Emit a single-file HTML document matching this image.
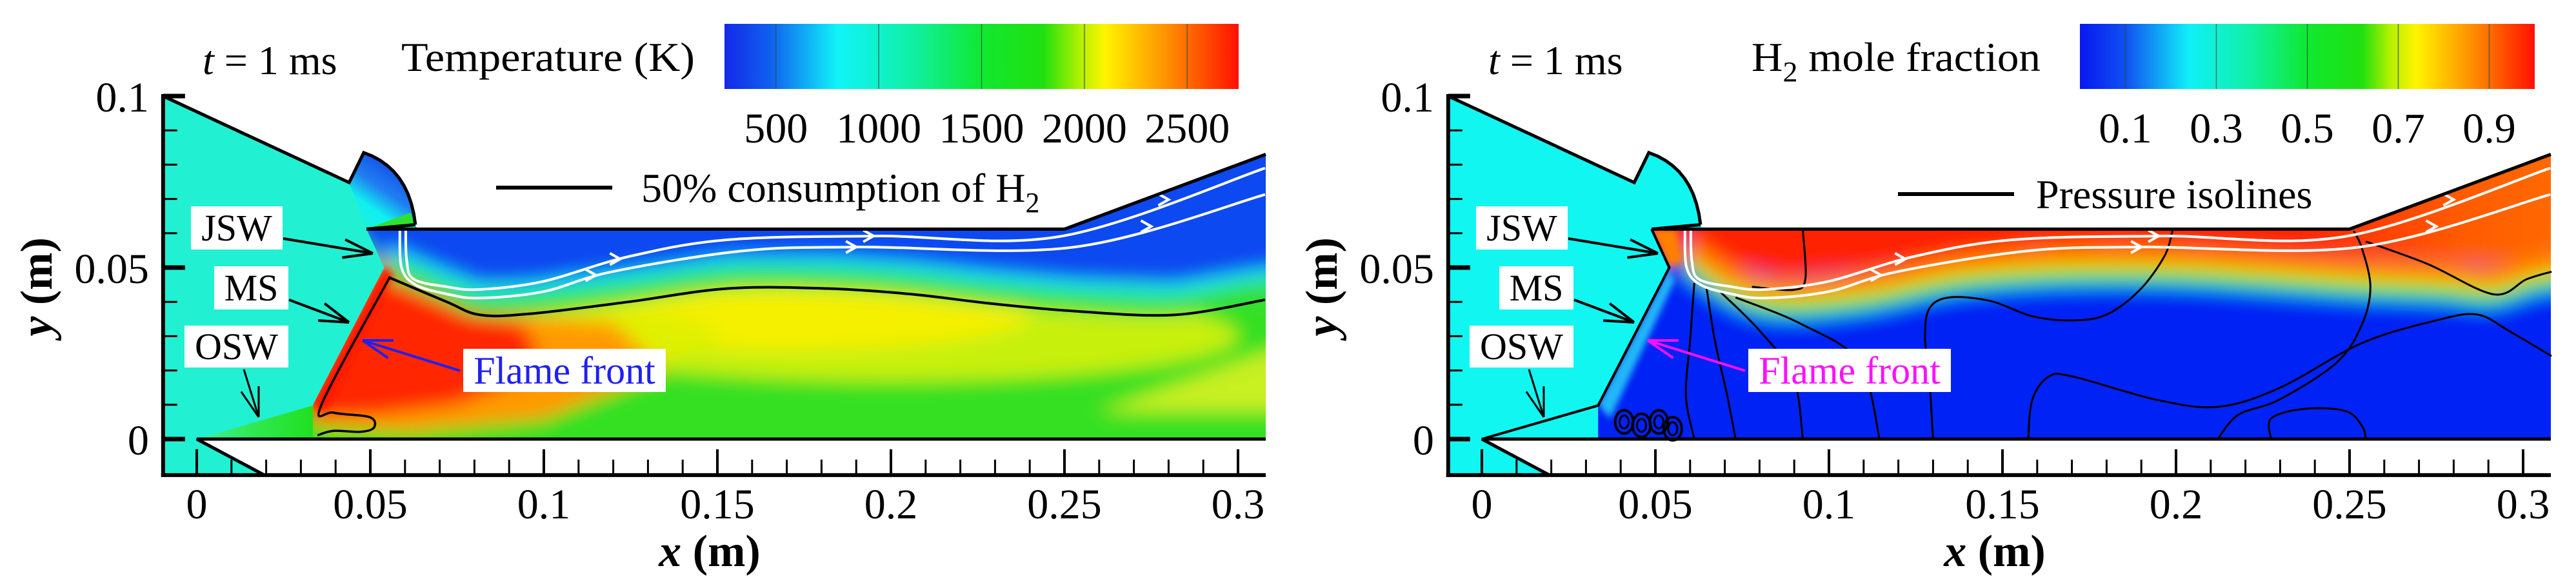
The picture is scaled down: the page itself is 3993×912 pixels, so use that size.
<!DOCTYPE html>
<html><head><meta charset="utf-8">
<style>
html,body{margin:0;padding:0;background:#fff;}
svg{display:block;}
text{font-family:"Liberation Serif",serif;fill:#000;}
</style></head>
<body>
<svg id="chart" width="3993" height="912" viewBox="0 0 3993 912" xmlns="http://www.w3.org/2000/svg">
<defs>
<filter id="blurBig" x="-20%" y="-20%" width="140%" height="140%"><feGaussianBlur stdDeviation="14"/></filter>
<filter id="blurSmall" x="-20%" y="-20%" width="140%" height="140%"><feGaussianBlur stdDeviation="5"/></filter>
<linearGradient id="tempBar" x1="0" x2="1" y1="0" y2="0">
<stop offset="0" stop-color="#1428e8"/><stop offset="0.09" stop-color="#1060f0"/><stop offset="0.22" stop-color="#10f4f8"/><stop offset="0.36" stop-color="#10f0a8"/><stop offset="0.5" stop-color="#10e830"/><stop offset="0.62" stop-color="#20e010"/><stop offset="0.69" stop-color="#b0f000"/><stop offset="0.74" stop-color="#fff400"/><stop offset="0.86" stop-color="#ff9000"/><stop offset="1" stop-color="#ff1000"/>
</linearGradient>
<linearGradient id="h2Bar" x1="0" x2="1" y1="0" y2="0">
<stop offset="0" stop-color="#0818f0"/><stop offset="0.1" stop-color="#1050f0"/><stop offset="0.24" stop-color="#10f0f8"/><stop offset="0.38" stop-color="#10f0a0"/><stop offset="0.5" stop-color="#10e830"/><stop offset="0.62" stop-color="#20e010"/><stop offset="0.68" stop-color="#b0f000"/><stop offset="0.74" stop-color="#fff400"/><stop offset="0.87" stop-color="#ff8800"/><stop offset="1" stop-color="#ff1000"/>
</linearGradient>
<linearGradient id="cowlGrad" x1="0" y1="1" x2="0.6" y2="0">
<stop offset="0" stop-color="#22f0d2"/><stop offset="0.35" stop-color="#10f0f0"/><stop offset="0.6" stop-color="#2080f0"/><stop offset="1" stop-color="#1040e8"/>
</linearGradient>
<linearGradient id="oswGrad" x1="0" x2="1" y1="0" y2="0">
<stop offset="0" stop-color="#40f0a8"/><stop offset="0.5" stop-color="#30e850"/><stop offset="1" stop-color="#20e020"/>
</linearGradient>
<linearGradient id="h2Upper" x1="0" x2="1" y1="0" y2="0">
<stop offset="0" stop-color="#ff2000"/><stop offset="0.65" stop-color="#ff2800"/><stop offset="0.8" stop-color="#ff5a00"/><stop offset="1" stop-color="#ff7a00"/>
</linearGradient>
</defs>
</svg>
<script>
// ---- data arrays (data coordinates, metres) ----
const xTickValues = [0, 0.05, 0.1, 0.15, 0.2, 0.25, 0.3];
const xTickLabels = ["0", "0.05", "0.1", "0.15", "0.2", "0.25", "0.3"];
const yTickValues = [0, 0.05, 0.1];
const yTickLabels = ["0", "0.05", "0.1"];
const tempBarLabels = ["500", "1000", "1500", "2000", "2500"];
const tempBarValues = [500, 1000, 1500, 2000, 2500];
const h2BarLabels = ["0.1", "0.3", "0.5", "0.7", "0.9"];
const h2BarValues = [0.1, 0.3, 0.5, 0.7, 0.9];
const shearX = [0.0552, 0.072, 0.0816, 0.0958, 0.1244, 0.153, 0.1816, 0.2054, 0.229, 0.253, 0.2817, 0.3078];
const shearY = [0.0472, 0.040, 0.0362, 0.0365, 0.040, 0.0439, 0.0439, 0.0423, 0.0395, 0.0373, 0.0362, 0.0406];
const h2BandX = [0.0588, 0.0731, 0.0873, 0.111, 0.1348, 0.1586, 0.1823, 0.206, 0.2298, 0.2536, 0.2773, 0.2915, 0.3082];
const h2BandY = [0.051, 0.0413, 0.038, 0.040, 0.0449, 0.0471, 0.0477, 0.0471, 0.0455, 0.0438, 0.0427, 0.0416, 0.046];
const flameX = [0.0556, 0.036, 0.0394, 0.0498, 0.0511, 0.0472, 0.0394, 0.0348];
const flameY = [0.0472, 0.0102, 0.0077, 0.0064, 0.0034, 0.0021, 0.0024, 0.0011];
const streamUpperX = [0.0602, 0.0605, 0.0625, 0.072, 0.0816, 0.1, 0.1244, 0.153, 0.196, 0.2494, 0.3078];
const streamUpperY = [0.061, 0.052, 0.0466, 0.0444, 0.0436, 0.046, 0.0532, 0.0581, 0.0592, 0.0592, 0.079];
const streamLowerX = [0.0585, 0.059, 0.063, 0.072, 0.0816, 0.1, 0.1197, 0.1578, 0.191, 0.253, 0.3078];
const streamLowerY = [0.061, 0.05, 0.045, 0.0423, 0.0411, 0.043, 0.0488, 0.0549, 0.056, 0.056, 0.0713];
const isolines = [
  [[0.0925,0.0607],[0.0932,0.0466],[0.0897,0.0435],[0.0778,0.0444]],
  [[0.199,0.0607],[0.1966,0.0532],[0.1894,0.0433],[0.18,0.0363],[0.1704,0.0346],[0.1586,0.0358],[0.1467,0.0402],[0.1348,0.0413],[0.1289,0.038],[0.1277,0.0292],[0.1289,0.0182],[0.13,0]],
  [[0.2512,0.0607],[0.2536,0.0555],[0.256,0.0444],[0.2536,0.0335],[0.2464,0.0224],[0.2298,0.0115],[0.218,0.0071],[0.212,0]],
  [[0.2547,0.0576],[0.2726,0.051],[0.2915,0.0422],[0.301,0.0466],[0.3082,0.0488]],
  [[0.3082,0.0242],[0.2963,0.0313],[0.2868,0.0363],[0.275,0.0346],[0.2536,0.028],[0.2298,0.0149],[0.212,0.0094],[0.1942,0.0115],[0.1704,0.0182],[0.1633,0.0182],[0.1586,0.0115],[0.1574,0]],
  [[0.2274,0],[0.2274,0.006],[0.2369,0.0088],[0.2488,0.0082],[0.2536,0.0038],[0.2547,0]],
  [[0.0612,0.0455],[0.06,0.0289],[0.0588,0.0126],[0.0612,0]],
  [[0.0647,0.0444],[0.0671,0.0289],[0.0707,0.0126],[0.0731,0]],
  [[0.0683,0.0433],[0.0802,0.0314],[0.0897,0.0182],[0.0925,0]],
  [[0.0731,0.0413],[0.0921,0.0335],[0.1087,0.0224],[0.1146,0]]
];
const vortexX = [0.041, 0.046, 0.051, 0.055];
const vortexY = [0.005, 0.004, 0.005, 0.003];

// ---- axis functions ----
const SX = 5380, SY = 5320;
function X(x, off) { return 305 + off + x * SX; }
function Y(y) { return 681 - y * SY; }

const NS = 'http://www.w3.org/2000/svg';
const svg = document.getElementById('chart');
const defs = svg.querySelector('defs');
function mk(parent, tag, attrs) {
  const e = document.createElementNS(NS, tag);
  for (const k in attrs) e.setAttribute(k, attrs[k]);
  parent.appendChild(e);
  return e;
}
function ptsStr(pts, off) { return pts.map(p => X(p[0], off).toFixed(1) + ',' + Y(p[1]).toFixed(1)).join(' '); }
function smooth(pts, off) {
  const P = pts.map(p => [X(p[0], off), Y(p[1])]);
  let d = 'M' + P[0][0].toFixed(1) + ' ' + P[0][1].toFixed(1);
  for (let i = 0; i < P.length - 1; i++) {
    const p0 = P[i - 1] || P[i], p1 = P[i], p2 = P[i + 1], p3 = P[i + 2] || p2;
    const c1 = [p1[0] + (p2[0] - p0[0]) / 6, p1[1] + (p2[1] - p0[1]) / 6];
    const c2 = [p2[0] - (p3[0] - p1[0]) / 6, p2[1] - (p3[1] - p1[1]) / 6];
    d += ' C' + c1[0].toFixed(1) + ' ' + c1[1].toFixed(1) + ' ' + c2[0].toFixed(1) + ' ' + c2[1].toFixed(1) + ' ' + p2[0].toFixed(1) + ' ' + p2[1].toFixed(1);
  }
  return d;
}
function zip(xs, ys, dy) { return xs.map((x, i) => [x, ys[i] + (dy || 0)]); }
function extend(pts) { const a = pts.slice(); const l = a[a.length - 1]; a.push([0.34, l[1]]); return a; }
function arcPts() {
  const P0 = [0.0481, 0.0835], C = [0.0612, 0.079], P1 = [0.063, 0.0625], out = [];
  for (let i = 0; i <= 10; i++) {
    const t = i / 10;
    out.push([(1-t)*(1-t)*P0[0] + 2*(1-t)*t*C[0] + t*t*P1[0], (1-t)*(1-t)*P0[1] + 2*(1-t)*t*C[1] + t*t*P1[1]]);
  }
  return out;
}
function arrow(parent, x1, y1, x2, y2, color, w) {
  const g = mk(parent, 'g', {stroke: color, 'stroke-width': w, fill: 'none'});
  mk(g, 'line', {x1: x1, y1: y1, x2: x2, y2: y2});
  const a = Math.atan2(y2 - y1, x2 - x1), L = 48, s = 0.3;
  mk(g, 'line', {x1: x2, y1: y2, x2: x2 - L * Math.cos(a - s), y2: y2 - L * Math.sin(a - s)});
  mk(g, 'line', {x1: x2, y1: y2, x2: x2 - L * Math.cos(a + s), y2: y2 - L * Math.sin(a + s)});
  return g;
}
function label(parent, txt, x, y, w, h, color, size) {
  const g = mk(parent, 'g', {});
  mk(g, 'rect', {x: x, y: y, width: w, height: h, fill: '#fff'});
  const t = mk(g, 'text', {x: x + w / 2, y: y + h / 2 + size * 0.34, 'font-size': size, 'text-anchor': 'middle', fill: color});
  t.style.fill = color;
  t.textContent = txt;
  return g;
}

function panel(off, kind) {
  const isT = kind === 'temperature';
  const g = mk(svg, 'g', {});
  
  

  const arc = arcPts();
  const domain = [[-0.0097, 0.1], [0.0439, 0.0748]].concat(arc).concat([[0.0635, 0.0612], [0.25, 0.0612], [0.308, 0.083], [0.308, 0], [0, 0], [0.0195, -0.0105], [-0.0097, -0.0105]]);
  const channel = [[0.0335, 0.010], [0.054, 0.050], [0.0489, 0.0612], [0.25, 0.0612], [0.308, 0.083], [0.308, 0], [0.0335, 0]];
  const cpD = mk(defs, 'clipPath', {id: 'dom' + off});
  mk(cpD, 'polygon', {points: ptsStr(domain, off)});
  const cpC = mk(defs, 'clipPath', {id: 'chan' + off});
  mk(cpC, 'polygon', {points: ptsStr(channel, off)});

  const field = mk(g, 'g', {'clip-path': 'url(#dom' + off + ')'});
  
  
  mk(field, 'rect', {x: 230 + off, y: 130, width: 1760, height: 620, fill: isT ? '#22f0d2' : '#12f6f2'});
  const cowl = [[0.0439, 0.0748]].concat(arc).concat([[0.0489, 0.0612]]);
  if (isT) {
    mk(field, 'polygon', {points: ptsStr(cowl, off), fill: 'url(#cowlGrad)'});
    mk(field, 'polygon', {points: ptsStr([[0.0489,0.0612],[0.063,0.0625],[0.0615,0.066]], off), fill: '#30e030'});
    mk(field, 'polygon', {points: ptsStr([[0, 0], [0.0335, 0.0098], [0.0335, 0]], off), fill: 'url(#oswGrad)'});
  }
  const ch = mk(field, 'g', {'clip-path': 'url(#chan' + off + ')'});
  const bl = mk(ch, 'g', {filter: 'url(#blurBig)'});
  const upperPoly = (bx, by, d) => [[0.045, 0.12], [0.34, 0.12], [0.34, by[by.length - 1] + d]].concat(zip(bx, by, d).reverse()).concat([[0.054, 0.050], [0.045, 0.062]]);
  if (isT) {
    mk(bl, 'rect', {x: 300 + off, y: 150, width: 1800, height: 650, fill: '#36e020'});
    mk(bl, 'ellipse', {cx: X(0.2, off), cy: Y(0.03), rx: 0.1 * SX, ry: 0.013 * SY, fill: '#c8f010'});
    mk(bl, 'ellipse', {cx: X(0.17, off), cy: Y(0.036), rx: 0.07 * SX, ry: 0.01 * SY, fill: '#f4f000'});
    mk(bl, 'ellipse', {cx: X(0.11, off), cy: Y(0.03), rx: 0.04 * SX, ry: 0.008 * SY, fill: '#e0f000'});
    mk(bl, 'polygon', {points: ptsStr([[0.26, 0.008], [0.34, 0.037], [0.34, 0.008]], off), fill: '#c8f020'});
    mk(bl, 'polygon', {points: ptsStr([[0.0335,0.004],[0.054,0.05],[0.07,0.041],[0.09,0.036],[0.12,0.034],[0.135,0.02],[0.1,0.006],[0.06,0.002]], off), fill: '#ff9a00'});
    mk(bl, 'polygon', {points: ptsStr([[0.03,0.010],[0.054,0.054],[0.06,0.046],[0.075,0.039],[0.095,0.033],[0.1,0.02],[0.075,0.01],[0.052,0.007],[0.03,0.006]], off), fill: '#ff2800'});
    mk(bl, 'path', {d: smooth(extend(zip(shearX, shearY, 0.003)), off), stroke: '#30e040', 'stroke-width': 34, fill: 'none'});
    mk(bl, 'path', {d: smooth(extend(zip(shearX, shearY, 0.0075)), off), stroke: '#18f0f0', 'stroke-width': 16, fill: 'none'});
    mk(bl, 'polygon', {points: ptsStr(upperPoly(shearX, shearY, 0.009), off), fill: '#1048f0'});
    const sh = mk(ch, 'g', {filter: 'url(#blurSmall)'});
    mk(sh, 'polygon', {points: ptsStr([[0.0335,0.010],[0.054,0.050],[0.0565,0.048],[0.037,0.008]], off), fill: '#ff1800'});
  } else {
    mk(bl, 'rect', {x: 300 + off, y: 150, width: 1800, height: 650, fill: '#0420f4'});
    mk(bl, 'path', {d: smooth(extend(zip(h2BandX, h2BandY, -0.002)), off), stroke: '#18b0f8', 'stroke-width': 16, fill: 'none'});
    mk(bl, 'path', {d: smooth(extend(zip(h2BandX, h2BandY, 0.0)), off), stroke: '#20e020', 'stroke-width': 20, fill: 'none'});
    mk(bl, 'path', {d: smooth(extend(zip(h2BandX, h2BandY, 0.003)), off), stroke: '#f0f000', 'stroke-width': 16, fill: 'none'});
    mk(bl, 'path', {d: smooth(extend(zip(h2BandX, h2BandY, 0.006)), off), stroke: '#ff8000', 'stroke-width': 30, fill: 'none'});
    mk(bl, 'polygon', {points: ptsStr(upperPoly(h2BandX, h2BandY, 0.009), off), fill: 'url(#h2Upper)'});
    const sh = mk(ch, 'g', {filter: 'url(#blurSmall)'});
    mk(sh, 'polygon', {points: ptsStr([[0.0335,0.010],[0.054,0.050],[0.0555,0.046],[0.037,0.006]], off), fill: '#20b8f8'});
    mk(sh, 'polygon', {points: ptsStr([[0.0489,0.0612],[0.054,0.050],[0.058,0.052],[0.056,0.0612]], off), fill: '#ff8000'});
  }

  // black contour lines
  const lines = mk(g, 'g', {fill: 'none', stroke: '#000'});
  
  
  if (isT) {
    const sl = mk(lines, 'path', {d: smooth(zip(shearX, shearY), off), 'stroke-width': 4});
    
    
    const fl = mk(lines, 'path', {d: smooth(zip(flameX, flameY), off), 'stroke-width': 3.5});
    
    
  } else {
    isolines.forEach((ln, i) => {
      const p = mk(lines, 'path', {d: smooth(ln, off), 'stroke-width': 3});
      
      
    });
    vortexX.forEach((vx, i) => {
      const e = mk(lines, 'ellipse', {cx: X(vx, off), cy: Y(vortexY[i]), rx: 14, ry: 18, 'stroke-width': 4});
      
      
      mk(lines, 'ellipse', {cx: X(vx, off), cy: Y(vortexY[i]), rx: 7, ry: 10, 'stroke-width': 3});
    });
    const sk = mk(lines, 'polyline', {points: ptsStr([[0, 0], [0.0335, 0.0098], [0.054, 0.050], [0.0489, 0.0612]], off), 'stroke-width': 4});
    
    
  }

  // streamlines
  const st = mk(g, 'g', {fill: 'none', stroke: '#fff', 'stroke-width': 4});
  
  
  mk(st, 'path', {d: smooth(zip(streamUpperX, streamUpperY), off)});
  mk(st, 'path', {d: smooth(zip(streamLowerX, streamLowerY), off)});
  [[0.122, 0.0525], [0.195, 0.0592], [0.28, 0.0698]].forEach(a => {
    const cx = X(a[0], off), cy = Y(a[1]);
    mk(st, 'polyline', {points: (cx - 16) + ',' + (cy - 9) + ' ' + cx + ',' + cy + ' ' + (cx - 16) + ',' + (cy + 9)});
  });
  [[0.115, 0.0478], [0.19, 0.056], [0.275, 0.062]].forEach(a => {
    const cx = X(a[0], off), cy = Y(a[1]);
    mk(st, 'polyline', {points: (cx - 16) + ',' + (cy - 9) + ' ' + cx + ',' + cy + ' ' + (cx - 16) + ',' + (cy + 9)});
  });

  // geometry outline
  const ol = mk(g, 'g', {fill: 'none', stroke: '#000', 'stroke-width': 5});
  
  
  mk(ol, 'polyline', {points: ptsStr([[-0.0097, 0.1], [0.0439, 0.0748]].concat(arc), off)});
  mk(ol, 'polyline', {points: ptsStr([[0.063, 0.0625], [0.0489, 0.0612], [0.25, 0.0612], [0.308, 0.083]], off), 'stroke-width': 5});
  mk(ol, 'polyline', {points: ptsStr([[0.0195, -0.0105], [0, 0], [0.308, 0]], off)});

  // axes
  const ax = mk(g, 'g', {stroke: '#000'});
  
  
  const xl = X(-0.0097, off), yb = Y(-0.0105);
  mk(ax, 'line', {x1: xl, y1: Y(0.1) - 3, x2: xl, y2: yb + 3, 'stroke-width': 6});
  mk(ax, 'line', {x1: xl - 3, y1: yb, x2: X(0.308, off), y2: yb, 'stroke-width': 6});
  for (let v = 0; v <= 0.3001; v += 0.01) {
    const major = Math.abs(v / 0.05 - Math.round(v / 0.05)) < 1e-6;
    mk(ax, 'line', {x1: X(v, off), y1: yb, x2: X(v, off), y2: yb - (major ? 40 : 24), 'stroke-width': major ? 4 : 3});
  }
  for (let v = 0; v <= 0.1001; v += 0.01) {
    const major = Math.abs(v / 0.05 - Math.round(v / 0.05)) < 1e-6;
    mk(ax, 'line', {x1: xl, y1: Y(v), x2: xl + (major ? 34 : 22), y2: Y(v), 'stroke-width': major ? 7 : 3});
  }
  xTickValues.forEach((v, i) => {
    const t = mk(g, 'text', {x: X(v, off), y: 804, 'font-size': 66, 'text-anchor': 'middle'});
    
    
    t.textContent = xTickLabels[i];
  });
  yTickValues.forEach((v, i) => {
    const t = mk(g, 'text', {x: xl - 22, y: Y(v) + 24, 'font-size': 66, 'text-anchor': 'end'});
    
    
    t.textContent = yTickLabels[i];
  });
  const xt = mk(g, 'text', {x: 1103 + off - 3, y: 878, 'font-size': 70, 'font-weight': 'bold', 'text-anchor': 'middle'});
  
  
  xt.innerHTML = '<tspan font-style="italic">x</tspan> (m)';
  const yt = mk(g, 'text', {x: 0, y: 0, 'font-size': 70, 'font-weight': 'bold', 'text-anchor': 'middle', transform: 'translate(' + (80 + off) + ',445) rotate(-90)'});
  
  
  yt.innerHTML = '<tspan font-style="italic">y</tspan> (m)';

  // time label
  const tl = mk(g, 'text', {x: (isT ? 314 : 2307 - 1992) + off, y: 115, 'font-size': 64});
  
  
  tl.innerHTML = '<tspan font-style="italic">t</tspan> = 1 ms';

  // colorbar
  const cb = mk(g, 'g', {});
  
  
  let cx0, cx1, vals, labs, vmin, vmax;
  if (isT) { cx0 = 1123; cx1 = 1920; vals = tempBarValues; labs = tempBarLabels; vmin = 250; vmax = 2750; }
  else { cx0 = 3224 - 1992; cx1 = 3929 - 1992; vals = h2BarValues; labs = h2BarLabels; vmin = 0; vmax = 1.0; }
  mk(cb, 'rect', {x: cx0 + off, y: 37, width: cx1 - cx0, height: 101, fill: isT ? 'url(#tempBar)' : 'url(#h2Bar)'});
  vals.forEach((v, i) => {
    const px = cx0 + off + (v - vmin) / (vmax - vmin) * (cx1 - cx0);
    mk(cb, 'line', {x1: px, y1: 37, x2: px, y2: 138, stroke: '#205040', 'stroke-width': 1.5, opacity: 0.7});
    const t = mk(cb, 'text', {x: px, y: 221, 'font-size': 66, 'text-anchor': 'middle'});
    
    
    t.textContent = labs[i];
  });
  const ctt = mk(g, 'text', {x: (isT ? 622 : 2715 - 1992) + off, y: 110, 'font-size': 64, textLength: isT ? 455 : 448, lengthAdjust: 'spacingAndGlyphs'});
  
  
  ctt.innerHTML = isT ? 'Temperature (K)' : 'H<tspan font-size="44" dy="16">2</tspan><tspan dy="-16"> mole fraction</tspan>';

  // legend
  const lg = mk(g, 'g', {});
  
  
  const lx0 = isT ? 769 : 2942 - 1992, lx1 = isT ? 949 : 3122 - 1992, ly = isT ? 291 : 301;
  mk(lg, 'line', {x1: lx0 + off, y1: ly, x2: lx1 + off, y2: ly, stroke: '#000', 'stroke-width': 6});
  const lt = mk(lg, 'text', {x: (isT ? 994 : 3156 - 1992) + off, y: ly + 22, 'font-size': 64});
  lt.innerHTML = isT ? '50% consumption of H<tspan font-size="44" dy="16">2</tspan>' : 'Pressure isolines';

  // annotations
  const an = mk(g, 'g', {});
  
  
  label(an, 'JSW', 296 + off, 320, 142, 67, '#000', 58);
  label(an, 'MS', 332 + off, 413, 115, 67, '#000', 58);
  label(an, 'OSW', 286 + off, 505, 161, 65, '#000', 58);
  arrow(an, 439 + off, 370, 578 + off, 393, '#000', 4);
  arrow(an, 448 + off, 465, 541 + off, 500, '#000', 4);
  arrow(an, 378 + off, 573, 401 + off, 647, '#000', 3);
  const fc = isT ? '#2020f0' : '#ff10ff';
  arrow(an, 713 + off, 575, 562 + off, 528, fc, 4);
  label(an, 'Flame front', 718 + off, 541, 314, 67, fc, 60);
}

panel(0, 'temperature');
panel(1992, 'h2-fraction');
</script>
</body></html>
